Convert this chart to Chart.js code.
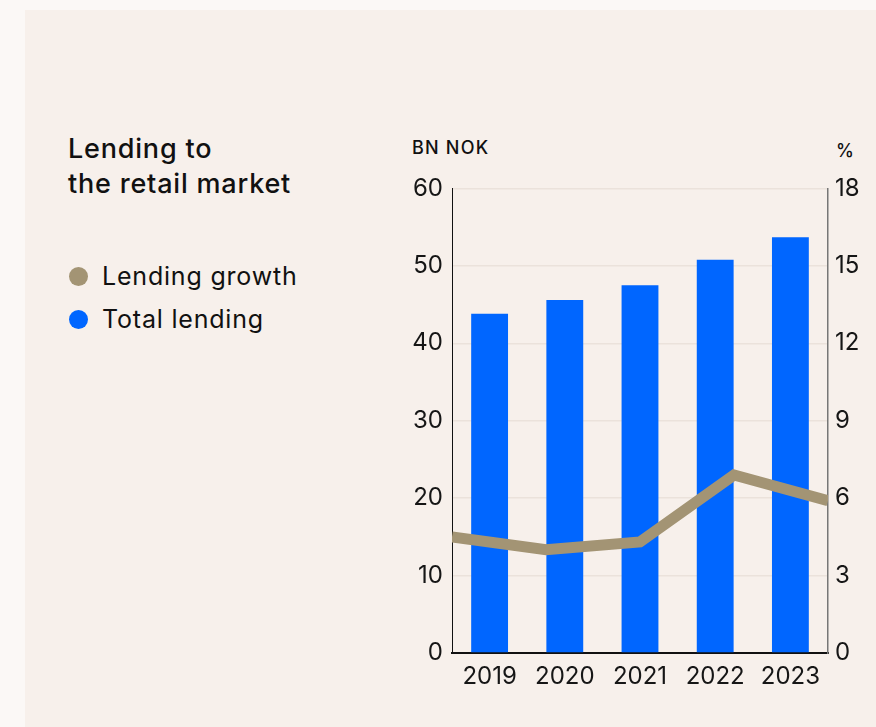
<!DOCTYPE html>
<html>
<head>
<meta charset="utf-8">
<title>Lending to the retail market</title>
<script src="https://cdn.jsdelivr.net/npm/chart.js@4.4.0/dist/chart.umd.min.js"></script>
<style>
    html, body {
        margin: 0;
        padding: 0;
        width: 876px;
        height: 727px;
        background: #fbf8f6;
        overflow: hidden;
        font-family: "Inter", "Noto Sans", sans-serif;
        color: #111;
    }
    .panel {
        position: absolute;
        left: 25px;
        top: 10px;
        right: 0;
        bottom: 0;
        background: #f7f0eb;
    }
    .title {
        position: absolute;
        left: 68px;
        top: 131px;
        font-size: 27px;
        font-weight: 500;
        letter-spacing: 0.8px;
        line-height: 35px;
        margin: 0;
    }
    .legend {
        position: absolute;
        left: 68px;
        top: 255px;
        font-size: 25px;
        letter-spacing: 0.8px;
        line-height: 43px;
    }
    .legend-item {
        display: flex;
        align-items: center;
    }
    .legend-dot {
        width: 19px;
        height: 19px;
        border-radius: 50%;
        margin-left: 1px;
        margin-right: 14px;
    }
    .unit {
        position: absolute;
        font-size: 18px;
        font-weight: 500;
        letter-spacing: 1.2px;
    }
    .chart-box {
        position: absolute;
        left: 390px;
        top: 165px;
        width: 486px;
        height: 550px;
    }
</style>
</head>
<body>

<div class="panel"></div>

<h2 class="title">Lending to<br>the retail market</h2>

<div class="legend" id="legend"></div>

<div class="unit" style="left:412px; top:137px;">BN NOK</div>
<div class="unit" style="left:836px; top:140px;">%</div>

<div class="chart-box">
    <canvas id="lendingChart"></canvas>
</div>

<script>
// ===== DATA =====

const years = ["2019", "2020", "2021", "2022", "2023"];

// total lending, BN NOK (left axis)
const totalLending = [43.8, 45.6, 47.5, 50.8, 53.7];

// lending growth, % (right axis)
const lendingGrowth = [4.5, 4.0, 4.3, 6.9, 5.9];

const leftTicks = [0, 10, 20, 30, 40, 50, 60];
const rightTicks = [0, 3, 6, 9, 12, 15, 18];

const blue = "#0066ff";
const khaki = "#a39474";

// ===== LEGEND =====

const legendItems = [
    { label: "Lending growth", color: khaki },
    { label: "Total lending", color: blue }
];

document.getElementById("legend").innerHTML =
    legendItems.map(item => `
        <div class="legend-item">
            <span class="legend-dot" style="background:${item.color}"></span>
            <span>${item.label}</span>
        </div>
    `).join("");

// ===== CHART =====

const tickFont = {
    family: "Inter, 'Noto Sans', sans-serif",
    size: 24,
    weight: "normal"
};

new Chart(
    document.getElementById("lendingChart"),
    {
        type: "bar",
        data: {
            labels: years,
            datasets: [
                {
                    type: "line",
                    label: "Lending growth",
                    data: lendingGrowth,
                    xAxisID: "x2",
                    yAxisID: "y1",
                    borderColor: khaki,
                    borderWidth: 11,
                    borderJoinStyle: "miter",
                    pointRadius: 0,
                    tension: 0,
                    clip: 0,
                    order: 0
                },
                {
                    label: "Total lending",
                    data: totalLending,
                    xAxisID: "x",
                    yAxisID: "y",
                    backgroundColor: blue,
                    grouped: false,
                    categoryPercentage: 1,
                    barPercentage: 0.49,
                    order: 1
                }
            ]
        },
        options: {
            responsive: true,
            maintainAspectRatio: false,
            animation: false,
            layout: {
                padding: { top: 4, left: 0, right: 0, bottom: 0 }
            },
            plugins: {
                legend: { display: false },
                tooltip: { enabled: false }
            },
            scales: {
                x: {
                    offset: true,
                    grid: { display: false, drawTicks: false },
                    border: { color: "#111", width: 2 },
                    ticks: {
                        color: "#161616",
                        font: tickFont,
                        padding: 9,
                        maxRotation: 0
                    },
                    afterFit: s => { s.height = 62; }
                },
                x2: {
                    type: "category",
                    offset: false,
                    display: false
                },
                y: {
                    position: "left",
                    min: 0,
                    max: 60,
                    afterBuildTicks: s => {
                        s.ticks = leftTicks.map(v => ({ value: v }));
                    },
                    grid: {
                        color: "#ebe2db",
                        lineWidth: 1.5,
                        drawTicks: false
                    },
                    border: { color: "#111", width: 1 },
                    ticks: {
                        color: "#161616",
                        font: tickFont,
                        padding: 9
                    },
                    afterFit: s => { s.width = 62; }
                },
                y1: {
                    position: "right",
                    min: 0,
                    max: 18,
                    afterBuildTicks: s => {
                        s.ticks = rightTicks.map(v => ({ value: v }));
                    },
                    grid: { display: false, drawTicks: false },
                    border: { color: "#777", width: 1.5 },
                    ticks: {
                        color: "#161616",
                        font: tickFont,
                        padding: 7
                    },
                    afterFit: s => { s.width = 48; }
                }
            }
        }
    }
);
</script>
</body>
</html>
